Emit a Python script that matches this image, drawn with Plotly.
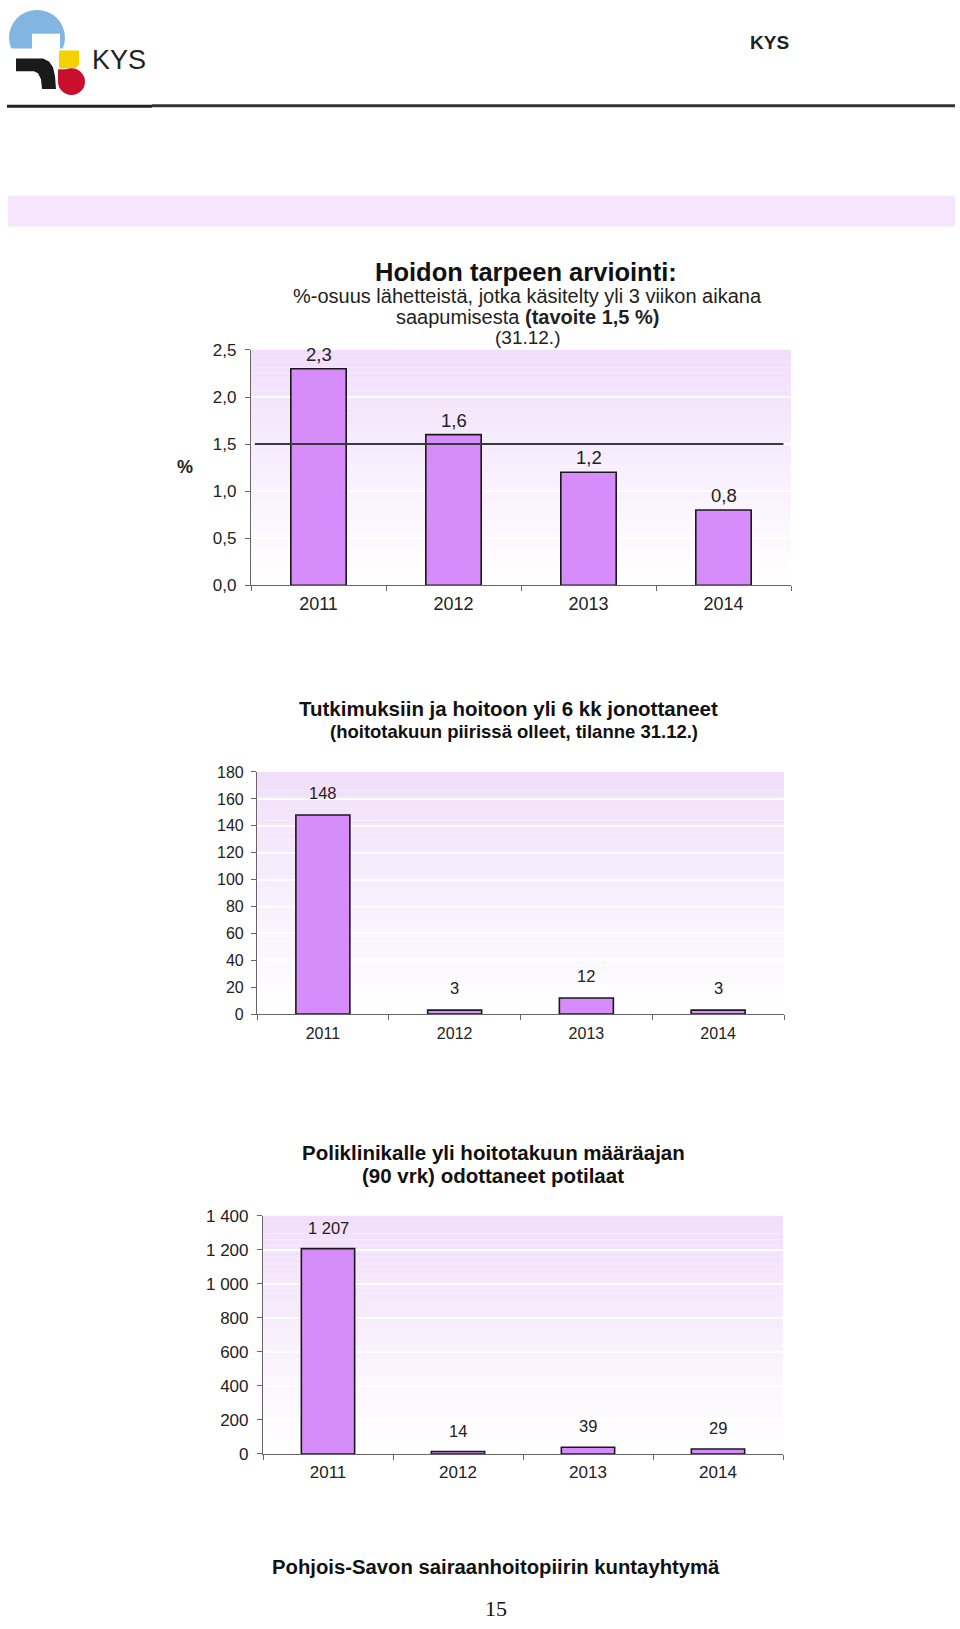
import plotly.graph_objects as go

W, H = 960, 1629

# ---------------- data ----------------
years = ["2011", "2012", "2013", "2014"]

c1_values = [2.3, 1.6, 1.2, 0.8]
c1_target = 1.5
c1_ticks = [0.0, 0.5, 1.0, 1.5, 2.0, 2.5]

c2_values = [148, 3, 12, 3]
c2_ticks = [0, 20, 40, 60, 80, 100, 120, 140, 160, 180]

c3_values = [1207, 14, 39, 29]
c3_ticks = [0, 200, 400, 600, 800, 1000, 1200, 1400]


def fmt_dec(v):
    return ("%.1f" % v).replace(".", ",")


def fmt_int(v):
    return "{:,}".format(v).replace(",", " ")


BAR = "#d68cfa"
FONT = "Liberation Sans, Arial, sans-serif"
TXT = "#222222"


def px_x(x):
    return x / W


def px_y(y):
    return 1 - y / H


fig = go.Figure()

charts = [
    dict(vals=c1_values, labels=[fmt_dec(v) for v in c1_values], ticks=c1_ticks, rng=[0, 2.5],
         fmt=".1f", x0=251, x1=791, ytop=345, ybot=583, shift=2, fs=18.5, xfs=18, yfs=17,
         so=2, yso=5),
    dict(vals=c2_values, labels=[fmt_int(v) for v in c2_values], ticks=c2_ticks, rng=[0, 180],
         fmt="d", x0=257, x1=784, ytop=772, ybot=1017, shift=11, fs=16.5, xfs=16, yfs=16,
         so=5, yso=4),
    dict(vals=c3_values, labels=[fmt_int(v) for v in c3_values], ticks=c3_ticks, rng=[0, 1400],
         fmt=",d", x0=263, x1=783, ytop=1221, ybot=1462, shift=10, fs=16.5, xfs=17, yfs=17,
         so=3, yso=5),
]

shapes = []
annotations = []

for i, c in enumerate(charts, start=1):
    xa = "x" if i == 1 else f"x{i}"
    ya = "y" if i == 1 else f"y{i}"
    fig.add_trace(go.Bar(
        x=years, y=c["vals"], xaxis=xa, yaxis=ya,
        marker=dict(color=BAR, line=dict(color="#1a1a1a", width=1.6)),
        width=0.41, showlegend=False, hoverinfo="x+y",
    ))
    # value labels (x given as the category's position on the category axis)
    for k, (v, lab) in enumerate(zip(c["vals"], c["labels"])):
        annotations.append(dict(
            x=k, y=v, xref=xa, yref=ya, text=lab, showarrow=False,
            yanchor="bottom", yshift=c["shift"],
            font=dict(family=FONT, size=c["fs"], color=TXT),
        ))
    lay = {
        ("xaxis" if i == 1 else f"xaxis{i}"): dict(
            type="category", categoryorder="array", categoryarray=years,
            range=[-0.5, len(years) - 0.5],
            domain=[px_x(c["x0"]), px_x(c["x1"])], anchor=ya,
            showline=True, linecolor="#666666", linewidth=1.2,
            ticks="outside", tickson="boundaries", ticklen=5, tickcolor="#666666",
            showgrid=False, tickangle=0, ticklabelstandoff=c["so"],
            tickfont=dict(family=FONT, size=c["xfs"], color=TXT),
            fixedrange=True,
        ),
        ("yaxis" if i == 1 else f"yaxis{i}"): dict(
            domain=[px_y(c["ybot"]), px_y(c["ytop"])], anchor=xa, range=c["rng"],
            tickvals=c["ticks"], tickformat=c["fmt"],
            showline=True, linecolor="#666666", linewidth=1.2,
            ticks="outside", ticklen=5, tickcolor="#666666", ticklabelstandoff=c["yso"],
            showgrid=True, gridcolor="#ffffff", gridwidth=2,
            zeroline=False,
            tickfont=dict(family=FONT, size=c["yfs"], color=TXT),
            fixedrange=True,
        ),
    }
    fig.update_layout(**lay)
    # gradient background (lavender at top fading to white)
    n = 40
    top = (241, 222, 250)
    bot = (255, 255, 255)
    for k in range(n):
        t = k / (n - 1)
        col = tuple(int(round(top[j] + (bot[j] - top[j]) * t)) for j in range(3))
        shapes.append(dict(
            type="rect", xref=f"{xa} domain", yref=f"{ya} domain",
            x0=0, x1=1, y0=1 - (k + 1) / n, y1=1 - k / n,
            fillcolor="rgb(%d,%d,%d)" % col, line=dict(width=0), layer="below",
        ))

# target line in chart 1
shapes.append(dict(type="line", xref="x domain", yref="y", x0=0.007, x1=0.986,
                   y0=c1_target, y1=c1_target, line=dict(color="#3a3a3a", width=2),
                   layer="above"))

# ---------------- page decoration ----------------
shapes.append(dict(type="line", xref="paper", yref="paper", x0=px_x(7), x1=px_x(152),
                   y0=px_y(98.5), y1=px_y(98.5), line=dict(color="#222222", width=3)))
shapes.append(dict(type="line", xref="paper", yref="paper", x0=px_x(152), x1=px_x(955),
                   y0=px_y(98), y1=px_y(98), line=dict(color="#333333", width=3)))
shapes.append(dict(type="rect", xref="paper", yref="paper", x0=px_x(8), x1=px_x(955),
                   y0=px_y(220), y1=px_y(189), fillcolor="#f6e5fc", line=dict(width=0)))


def path(points):
    return "M " + " L ".join("%f,%f" % (px_x(a), px_y(b)) for a, b in points) + " Z"


LY = -7  # logo vertical offset
shapes.append(dict(type="circle", xref="paper", yref="paper",
                   x0=px_x(9), x1=px_x(65), y0=px_y(64 + LY), y1=px_y(8 + LY),
                   fillcolor="#82b6e2", line=dict(width=0)))
shapes.append(dict(type="rect", xref="paper", yref="paper", x0=px_x(7), x1=px_x(70),
                   y0=px_y(66 + LY), y1=px_y(47 + LY), fillcolor="white", line=dict(width=0)))
shapes.append(dict(type="rect", xref="paper", yref="paper", x0=px_x(32), x1=px_x(60),
                   y0=px_y(48 + LY), y1=px_y(32 + LY), fillcolor="white", line=dict(width=0)))
shapes.append(dict(type="path", xref="paper", yref="paper",
                   path=path([(59, 49 + LY), (79, 49 + LY), (79, 63 + LY), (76, 67 + LY), (59, 67 + LY)]),
                   fillcolor="#f4d200", line=dict(width=0)))
shapes.append(dict(type="path", xref="paper", yref="paper",
                   path=path([(a, b + LY) for a, b in
                              [(16, 57), (43, 57), (49, 60), (53, 66), (55, 75), (56, 88),
                               (42, 88), (41, 78), (38, 72), (34, 70), (16, 70)]]),
                   fillcolor="#1a1a1a", line=dict(width=0)))
shapes.append(dict(type="circle", xref="paper", yref="paper",
                   x0=px_x(58), x1=px_x(85), y0=px_y(94 + LY), y1=px_y(67 + LY),
                   fillcolor="#c8102e", line=dict(width=0)))
shapes.append(dict(type="rect", xref="paper", yref="paper", x0=px_x(58), x1=px_x(72),
                   y0=px_y(81 + LY), y1=px_y(68 + LY), fillcolor="#c8102e", line=dict(width=0)))


def txt(x, y, text, size, bold=False, family=FONT, color=TXT, xanchor="center"):
    return dict(x=px_x(x), y=px_y(y), xref="paper", yref="paper",
                text=("<b>%s</b>" % text) if bold else text, showarrow=False,
                xanchor=xanchor, yanchor="middle",
                font=dict(family=family, size=size, color=color))


annotations += [
    txt(90, 52, "KYS", 27, xanchor="left"),
    txt(769, 34, "KYS", 19, bold=True, family="Liberation Sans Narrow, Liberation Sans, Arial"),
    # chart 1 titles
    txt(526, 266.5, "Hoidon tarpeen arviointi:", 25.5, bold=True, color="#111111"),
    txt(527, 290, "%-osuus lähetteistä, jotka käsitelty yli 3 viikon aikana", 20),
    txt(527, 312, "saapumisesta <b>(tavoite 1,5 %)</b>", 20),
    txt(527, 332, "(31.12.)", 19),
    txt(185, 463, "%", 18, bold=True),
    # chart 2 titles
    txt(509, 708, "Tutkimuksiin ja hoitoon yli 6 kk jonottaneet", 20.5, bold=True, color="#111111"),
    txt(514, 731, "(hoitotakuun piirissä olleet, tilanne 31.12.)", 18.5, bold=True, color="#111111"),
    # chart 3 titles
    txt(493, 1157, "Poliklinikalle yli hoitotakuun määräajan", 20.5, bold=True, color="#111111"),
    txt(493, 1180, "(90 vrk) odottaneet potilaat", 20.5, bold=True, color="#111111"),
    # footer
    txt(496, 1576, "Pohjois-Savon sairaanhoitopiirin kuntayhtymä", 20.3, bold=True, color="#111111"),
    txt(496, 1618, "15", 22, family="Liberation Serif, Times New Roman, serif", color="#111111"),
]

fig.update_layout(
    width=W, height=H,
    margin=dict(l=0, r=0, t=0, b=0),
    paper_bgcolor="white", plot_bgcolor="white",
    separators=", ",
    shapes=shapes, annotations=annotations,
    font=dict(family=FONT),
)

fig.write_html(
    "out.html",
    config={"displayModeBar": False},
    post_script="document.body.style.margin='0';document.body.style.overflow='hidden';",
)
